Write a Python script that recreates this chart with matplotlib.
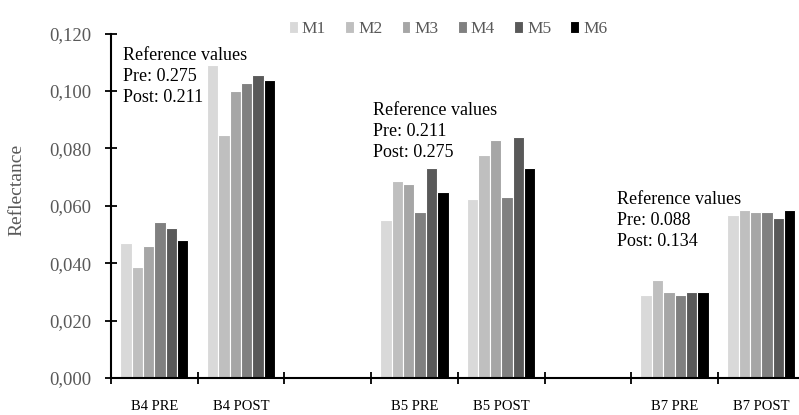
#! /usr/bin/env python
# coding: utf-8
"""Grouped bar chart of reflectance per band, before and after."""

import numpy as np
import matplotlib
matplotlib.use('Agg')
import matplotlib.pyplot as plt
from matplotlib.ticker import FuncFormatter, FixedLocator

nan = np.nan

categories = ['B4 PRE', 'B4 POST', '', 'B5 PRE', 'B5 POST', '', 'B7 PRE', 'B7 POST']
series = ['M1', 'M2', 'M3', 'M4', 'M5', 'M6']

m1 = [0.0470, 0.1092, nan, 0.0550, 0.0622, nan, 0.0290, 0.0569]
m2 = [0.0387, 0.0848, nan, 0.0685, 0.0777, nan, 0.0343, 0.0586]
m3 = [0.0460, 0.1001, nan, 0.0677, 0.0829, nan, 0.0298, 0.0578]
m4 = [0.0542, 0.1029, nan, 0.0578, 0.0631, nan, 0.0290, 0.0578]
m5 = [0.0523, 0.1056, nan, 0.0730, 0.0838, nan, 0.0298, 0.0559]
m6 = [0.0479, 0.1037, nan, 0.0649, 0.0730, nan, 0.0298, 0.0586]

notes = [
    'Reference values\nPre: 0.275\nPost: 0.211',
    'Reference values\nPre: 0.211\nPost: 0.275',
    'Reference values\nPre: 0.088\nPost: 0.134',
]

colors = ['#d9d9d9', '#bfbfbf', '#a6a6a6', '#808080', '#595959', '#000000']
grey = '#595959'

plt.rcParams['font.family'] = ['Liberation Serif', 'DejaVu Serif']


def main():
    """Draw and save the chart."""
    fig = plt.figure(figsize=(7.99, 4.15), dpi=100)
    ax = fig.add_axes([0.139, 0.0892, 0.868, 0.830])

    x = np.arange(len(categories))
    width = 0.131
    values = [m1, m2, m3, m4, m5, m6]
    for i, (name, vals) in enumerate(zip(series, values)):
        offset = (i - 2.5) * width
        ax.bar(x + offset, vals, width, color=colors[i], edgecolor='white',
               linewidth=0.8, label=name)

    ax.set_xlim(-0.5, len(categories) - 0.5)
    ax.set_ylim(0, 0.12)
    ax.set_yticks(np.arange(0, 0.1201, 0.02))
    ax.yaxis.set_major_formatter(FuncFormatter(lambda v, p: f'{v:.3f}'.replace('.', ',')))

    ax.set_xticks(x)
    ax.set_xticklabels(categories)
    ax.xaxis.set_minor_locator(FixedLocator(np.arange(-0.5, len(categories), 1.0)))
    ax.tick_params(axis='x', which='major', length=0, pad=15.5, labelsize=10.5, labelcolor='black')
    ax.tick_params(axis='x', which='minor', direction='inout', length=8, width=1.3)
    ax.tick_params(axis='y', direction='inout', length=8, width=1.3, pad=10.5,
                   labelsize=13.5, labelcolor=grey)

    for side in ['top', 'right']:
        ax.spines[side].set_visible(False)
    for side in ['left', 'bottom']:
        ax.spines[side].set_linewidth(1.5)

    ax.set_ylabel('Reflectance', fontsize=14, color=grey)
    ax.yaxis.set_label_coords(-0.124, 0.546)

    spots = [(-0.362, 0.1153), (2.525, 0.0961), (5.34, 0.0650)]
    for txt, (tx, ty) in zip(notes, spots):
        ax.text(tx, ty, txt, fontsize=13, va='top', ha='left', linespacing=1.3)

    leg = fig.legend(loc='center', bbox_to_anchor=(0.561, 0.93), ncol=6, frameon=False,
                     fontsize=12.5, handlelength=0.5, handleheight=0.7,
                     handletextpad=0.25, columnspacing=1.1)
    for t in leg.get_texts():
        t.set_color(grey)

    fig.savefig('out.png', dpi=100)
    plt.close(fig)


if __name__ == '__main__':
    main()
